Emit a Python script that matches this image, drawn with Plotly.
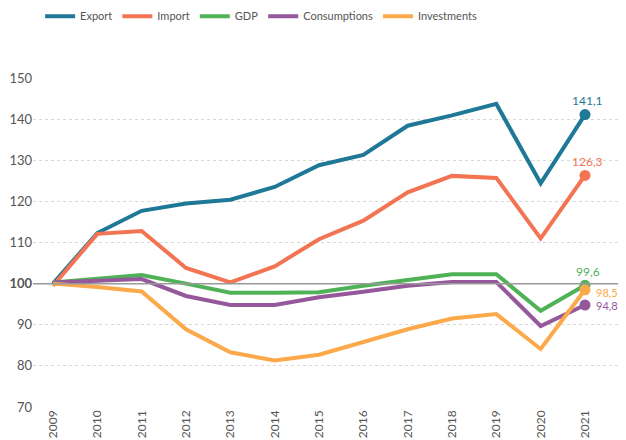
import plotly.graph_objects as go

years = list(range(2009, 2022))

export = [100.0, 112.3, 117.7, 119.5, 120.4, 123.5, 128.8, 131.3, 138.4, 140.9, 143.7, 124.4, 141.1]
imports = [99.5, 112.1, 112.8, 103.8, 100.3, 104.2, 110.8, 115.3, 122.2, 126.2, 125.7, 111.0, 126.3]
gdp = [100.3, 101.2, 102.1, 100.0, 97.8, 97.8, 97.9, 99.5, 101.0, 102.3, 102.3, 93.4, 99.6]
consumptions = [100.3, 100.6, 101.1, 97.0, 94.8, 94.8, 96.7, 98.0, 99.5, 100.4, 100.4, 89.7, 94.8]
investments = [100.0, 99.2, 98.1, 88.9, 83.3, 81.3, 82.7, 85.9, 88.9, 91.5, 92.6, 84.1, 98.5]

series = [
    ('Export', export, '#1e7896'),
    ('Import', imports, '#f27452'),
    ('GDP', gdp, '#4fb257'),
    ('Consumptions', consumptions, '#94589b'),
    ('Investments', investments, '#fba94a'),
]

# where the end labels sit relative to the last point
label_pos = {
    'Export': dict(xshift=3, yshift=14, xanchor='center', size=12),
    'Import': dict(xshift=3, yshift=14, xanchor='center', size=12),
    'GDP': dict(xshift=3, yshift=14, xanchor='center', size=12),
    'Consumptions': dict(xshift=9, yshift=0, xanchor='left', size=11),
    'Investments': dict(xshift=9, yshift=-3, xanchor='left', size=11),
}

fig = go.Figure()

fig.add_hline(y=100, line_color='#9a9a9a', line_width=1.5)

for name, vals, color in series:
    fig.add_trace(go.Scatter(
        x=years, y=vals, mode='lines', name=name,
        line=dict(color=color, width=4),
    ))
    fig.add_trace(go.Scatter(
        x=[years[-1]], y=[vals[-1]], mode='markers', showlegend=False,
        marker=dict(color=color, size=11),
        hoverinfo='skip',
    ))
    pos = label_pos[name]
    fig.add_annotation(
        x=years[-1], y=vals[-1], text=f'{vals[-1]:.1f}'.replace('.', ','),
        showarrow=False, font=dict(color=color, size=pos['size']),
        yanchor='middle', xanchor=pos['xanchor'],
        xshift=pos['xshift'], yshift=pos['yshift'],
    )

yticks = list(range(70, 151, 10))
ytext = ['<b>100</b>' if v == 100 else str(v) for v in yticks]

# the page body adds an 8px offset, margins below make up for it
fig.update_layout(
    width=626, height=440,
    margin=dict(l=25, r=8, t=70, b=41, autoexpand=False),
    plot_bgcolor='white', paper_bgcolor='white',
    font=dict(family='Lato, sans-serif', color='#555555', size=12),
    showlegend=True,
    legend=dict(
        orientation='h', x=0.012, xanchor='left', y=1.188, yanchor='middle',
        font=dict(size=11, color='#555555'), itemwidth=30,
    ),
    xaxis=dict(
        range=[2008.549, 2021.925], tickvals=years, ticktext=[str(y) for y in years],
        tickangle=-90, showgrid=False, zeroline=False, showline=False,
        ticks='', tickfont=dict(size=12, color='#555555'), automargin=False,
    ),
    yaxis=dict(
        range=[70, 150], tickvals=yticks, ticktext=ytext,
        showgrid=True, gridcolor='#d8d8d8', griddash='dot', gridwidth=1,
        zeroline=False, showline=False, ticks='',
        tickfont=dict(size=13, color='#555555'), automargin=False,
    ),
)

fig.write_html('out.html')
